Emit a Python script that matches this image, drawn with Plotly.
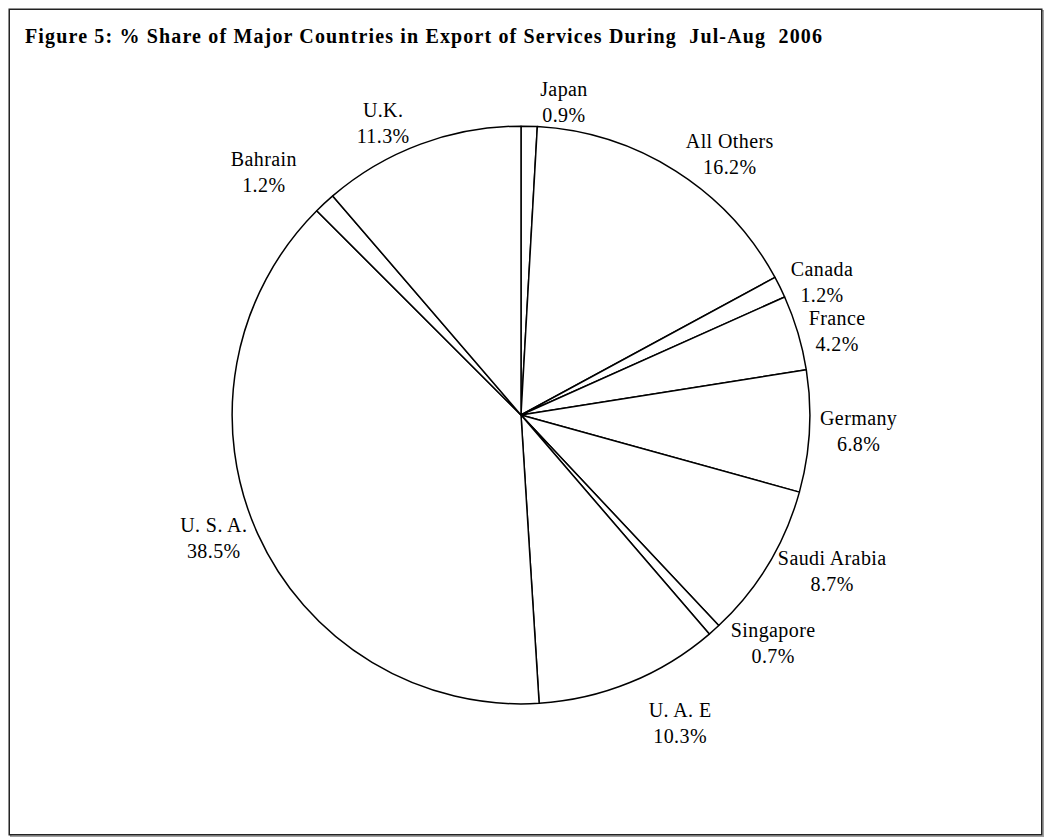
import plotly.graph_objects as go

countries = ["Japan", "All Others", "Canada", "France", "Germany", "Saudi Arabia",
             "Singapore", "U. A. E", "U. S. A.", "Bahrain", "U.K."]
shares = [0.9, 16.2, 1.2, 4.2, 6.8, 8.7, 0.7, 10.3, 38.5, 1.2, 11.3]
title_text = "Figure 5: % Share of Major Countries in Export of Services During\u00a0\u00a0Jul-Aug\u00a0\u00a02006"

# label placement (styling only): how far each label sits out from the rim, as a fraction of radius
label_pull = [0.0, 0.0, 0.0, 0.0, 0.0, 0.0, 0.0, 0.076, 0.0, 0.087, 0.0]

W, H = 1044, 839
cx, cy, R = 521, 415, 289           # pie centre and radius in pixels
max_pull = max(label_pull)
half = R * (1 + max_pull)           # half size of the plot area
ml, mt = cx - half, cy - half
mr, mb = W - cx - half, H - cy - half
pw = ph = 2 * half

def px_to_paper_x(x):
    return (x - ml) / pw

def px_to_paper_y(y):
    return (H - mb - y) / ph

inner = [(half - R) / (2 * half), (half + R) / (2 * half)]

pie_shapes = go.Pie(
    labels=countries,
    values=shares,
    sort=False,
    direction="clockwise",
    rotation=0,
    domain=dict(x=inner, y=inner),
    marker=dict(colors=["white"] * len(countries), line=dict(color="black", width=1.5)),
    textinfo="none",
    showlegend=False,
    hoverinfo="label+value",
)

pie_labels = go.Pie(
    labels=countries,
    values=shares,
    sort=False,
    direction="clockwise",
    rotation=0,
    pull=label_pull,
    domain=dict(x=[0, 1], y=[0, 1]),
    marker=dict(colors=["rgba(0,0,0,0)"] * len(countries), line=dict(width=0)),
    texttemplate="%{label}<br>%{value:.1f}%",
    textposition="outside",
    textfont=dict(family="Liberation Serif", size=20, color="black"),
    showlegend=False,
    hoverinfo="skip",
)

fig = go.Figure([pie_shapes, pie_labels])

fig.update_layout(
    width=W, height=H,
    margin=dict(l=ml, r=mr, t=mt, b=mb, autoexpand=False),
    paper_bgcolor="white",
    plot_bgcolor="white",
    font=dict(family="Liberation Serif", color="black"),
    annotations=[dict(
        text="<b>" + title_text + "</b>",
        xref="paper", yref="paper",
        x=px_to_paper_x(423.5), y=px_to_paper_y(36),
        xanchor="center", yanchor="middle",
        showarrow=False,
        font=dict(family="Liberation Serif", size=20, color="black"),
    )],
    shapes=[
        dict(type="rect", xref="paper", yref="paper",
             x0=px_to_paper_x(10.5), x1=px_to_paper_x(1043.5),
             y0=px_to_paper_y(10.5), y1=px_to_paper_y(836.5),
             line=dict(color="#a0a0a0", width=1.5), layer="below"),
        dict(type="rect", xref="paper", yref="paper",
             x0=px_to_paper_x(9), x1=px_to_paper_x(1042),
             y0=px_to_paper_y(9), y1=px_to_paper_y(835),
             line=dict(color="#222222", width=1.5), fillcolor="white", layer="below"),
    ],
)

post = """
document.body.style.margin = '0';
document.body.style.padding = '0';
var gd = document.getElementById('{plot_id}');
gd.querySelectorAll('.annotation-text').forEach(function(t){ t.style.letterSpacing = '1.15px'; });
gd.querySelectorAll('.slicetext').forEach(function(t){ t.style.letterSpacing = '0.4px'; });
gd.querySelectorAll('.textline').forEach(function(t){ t.style.display = 'none'; });
"""

fig.write_html("out.html", post_script=post, config=dict(displayModeBar=False))
